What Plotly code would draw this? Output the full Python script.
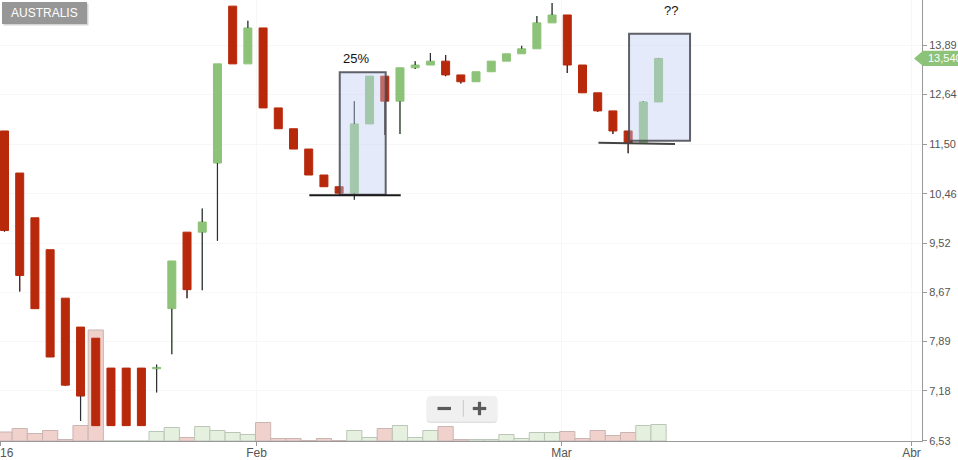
import math
import plotly.graph_objects as go

# ------------------------------------------------------------------
# Data (daily candles, Jan-Mar 2016)
# ------------------------------------------------------------------
month_ticks = [-0.29, 16.57, 36.62, 59.63]
month_labels = ["2016", "Feb", "Mar", "Abr"]

open_ = [11.79, 10.88, 9.99, 9.40, 8.57, 8.11, 7.94, 7.50, 7.50, 7.50,
         7.49, 8.40, 9.72, 9.72, 11.09, 14.96, 13.40, 14.35, 12.32, 11.84,
         11.39, 10.84, 10.60, 10.47, 11.95, 13.09, 12.48, 13.30, 13.37, 13.47,
         13.12, 12.95, 13.20, 13.47, 13.66, 13.79, 14.49, 14.71, 13.37, 12.68,
         12.25, 11.79, 11.52, 12.46]
high = [11.79, 10.88, 9.99, 9.40, 8.57, 8.11, 7.94, 7.50, 7.50, 7.50,
        7.55, 9.20, 9.72, 10.17, 13.40, 14.96, 14.55, 14.35, 12.32, 11.84,
        11.39, 10.84, 10.60, 12.48, 13.09, 13.09, 13.30, 13.47, 13.68, 13.63,
        13.12, 13.20, 13.47, 13.66, 13.87, 14.68, 15.05, 14.71, 13.37, 12.68,
        12.25, 11.79, 12.48, 13.55]
low = [9.73, 8.68, 8.40, 7.66, 7.25, 6.78, 6.72, 6.72, 6.72, 6.72,
       7.16, 7.70, 8.57, 8.70, 9.56, 13.40, 13.40, 12.32, 11.84, 11.39,
       10.84, 10.60, 10.47, 10.34, 11.95, 11.70, 11.72, 13.27, 13.37, 13.09,
       12.91, 12.95, 13.20, 13.47, 13.66, 13.79, 14.49, 13.17, 12.68, 12.23,
       11.72, 11.30, 11.52, 12.46]
close = [9.75, 8.95, 8.40, 7.66, 7.26, 7.11, 6.72, 6.72, 6.72, 6.72,
         7.51, 9.20, 8.71, 9.91, 13.40, 13.40, 14.35, 12.32, 11.84, 11.39,
         10.84, 10.60, 10.47, 11.95, 13.09, 12.48, 13.30, 13.37, 13.47, 13.12,
         12.95, 13.20, 13.47, 13.66, 13.79, 14.49, 14.71, 13.37, 12.68, 12.25,
         11.79, 11.52, 12.46, 13.54]
volume = [18, 25, 15, 21, 3, 31, 222, 0, 0, 0,
          19, 27, 7, 29, 21, 17, 13, 37, 5, 5,
          1, 5, 1, 21, 7, 25, 31, 7, 21, 29,
          3, 3, 3, 13, 5, 17, 17, 19, 5, 21,
          11, 17, 31, 33]          # thousand shares

price_ticks = [6.53, 7.18, 7.89, 8.67, 9.52, 10.46, 11.50, 12.64, 13.89]
price_tick_labels = [f"{v:.2f}".replace(".", ",") for v in price_ticks]

# drawn annotations (boxes, support lines, notes)
box_x0 = [22.04, 41.06]
box_x1 = [25.06, 45.07]
box_lo = [10.44, 11.57]
box_hi = [13.19, 14.19]
support_x0 = [20.04, 39.05]
support_x1 = [26.05, 44.08]
support_y0 = [10.43, 11.53]
support_y1 = [10.43, 11.50]
note_text = ["25%", "??"]
note_x = [23.11, 43.82]
note_y = [13.55, 14.85]

x = list(range(len(close)))

# ------------------------------------------------------------------
UP = "#8dc378"
DOWN = "#b8290c"
WICK = "#2b2f33"
FONT = "Liberation Sans, Arial, sans-serif"
W, H = 958, 460
ML, MR, MT, MB = 0, 36, 0, 19
PW, PH = W - ML - MR, H - MT - MB
PRICE_RANGE = [6.526, 15.136]


def pxx(px):
    return px / PW


def pxy(py):
    return 1 - py / PH


# volume colours: change vs previous close
vol_fill, vol_line = [], []
for i in range(len(close)):
    up = close[i] >= (close[i - 1] if i > 0 else open_[i])
    vol_fill.append("#e5f0df" if up else "#f0d1cc")
    vol_line.append("#bcc6b8" if up else "#c9b5b2")

# wick segments outside the bodies
wx, wy = [], []
for i in range(len(close)):
    top = max(open_[i], close[i])
    bot = min(open_[i], close[i])
    if high[i] > top:
        wx += [x[i], x[i], None]
        wy += [high[i], top, None]
    if low[i] < bot:
        wx += [x[i], x[i], None]
        wy += [bot, low[i], None]

fig = go.Figure()

fig.add_trace(go.Bar(
    x=x, y=volume, width=1.0, yaxis="y",
    marker=dict(color=vol_fill, line=dict(color=vol_line, width=1)),
    hoverinfo="skip", showlegend=False,
))

fig.add_trace(go.Candlestick(
    x=x, open=open_, high=high, low=low, close=close, yaxis="y2",
    increasing=dict(fillcolor=UP, line=dict(color=UP, width=1)),
    decreasing=dict(fillcolor=DOWN, line=dict(color=DOWN, width=1)),
    whiskerwidth=0, showlegend=False,
))

fig.add_trace(go.Scatter(
    x=wx, y=wy, yaxis="y2", mode="lines",
    line=dict(color=WICK, width=1.2), hoverinfo="skip", showlegend=False,
))

shapes = []
# analysis boxes (shape positions on log axes are data values)
for i in range(len(box_x0)):
    shapes.append(dict(
        type="rect", xref="x", yref="y2",
        x0=box_x0[i], x1=box_x1[i], y0=box_lo[i], y1=box_hi[i],
        fillcolor="rgba(190,205,240,0.42)",
        line=dict(color="rgba(70,72,80,0.85)", width=2), layer="above",
    ))
# support lines
for i in range(len(support_x0)):
    shapes.append(dict(
        type="line", xref="x", yref="y2",
        x0=support_x0[i], x1=support_x1[i],
        y0=support_y0[i], y1=support_y1[i],
        line=dict(color="#1a1a1a" if i == 0 else "#444", width=2), layer="above",
    ))

# last price tag
shapes.append(dict(
    type="path", xref="paper", yref="y2",
    xsizemode="pixel", ysizemode="pixel",
    xanchor=1, yanchor=close[-1],
    path="M -8,0 L 1,7.6 L 40,7.6 L 40,-7.6 L 1,-7.6 Z",
    fillcolor=UP, line=dict(width=0), layer="above",
))

# title label box (with shadow)
for dx, dy, col in [(1.5, 1.5, "#d4d4d4"), (0, 0, "#979797")]:
    shapes.append(dict(
        type="rect", xref="paper", yref="paper",
        x0=pxx(2 + dx), x1=pxx(87 + dx), y0=pxy(24 + dy), y1=pxy(2 + dy),
        fillcolor=col, line=dict(width=0), layer="above",
    ))

# zoom control widget
zx, zy = 426.7, 421.7
box_path = ("M 4,0 L 66.6,0 Q 70.6,0 70.6,4 L 70.6,21.7 Q 70.6,25.7 66.6,25.7 "
            "L 4,25.7 Q 0,25.7 0,21.7 L 0,4 Q 0,0 4,0 Z")
for dy, col in [(1.2, "#dedede"), (0, "#f0f0f0")]:
    shapes.append(dict(
        type="path", xref="paper", yref="paper",
        xsizemode="pixel", ysizemode="pixel",
        xanchor=pxx(zx), yanchor=pxy(zy + dy),
        path=box_path, fillcolor=col, line=dict(width=0), layer="above",
    ))
shapes.append(dict(type="line", xref="paper", yref="paper",
                   x0=pxx(463.3), x1=pxx(463.3), y0=pxy(400), y1=pxy(416.7),
                   line=dict(color="#c8c8c8", width=1), layer="above"))
shapes.append(dict(type="line", xref="paper", yref="paper",
                   x0=pxx(437.5), x1=pxx(451), y0=pxy(408.5), y1=pxy(408.5),
                   line=dict(color="#5a5a5a", width=3.2), layer="above"))
shapes.append(dict(type="line", xref="paper", yref="paper",
                   x0=pxx(472.8), x1=pxx(486.2), y0=pxy(408.5), y1=pxy(408.5),
                   line=dict(color="#5a5a5a", width=3.2), layer="above"))
shapes.append(dict(type="line", xref="paper", yref="paper",
                   x0=pxx(479.5), x1=pxx(479.5), y0=pxy(401.8), y1=pxy(415.2),
                   line=dict(color="#5a5a5a", width=3.2), layer="above"))

annotations = []
for i in range(len(note_text)):
    annotations.append(dict(
        text=note_text[i], xref="x", yref="y2",
        x=note_x[i], y=math.log10(note_y[i]),
        showarrow=False, font=dict(family=FONT, size=13, color="#111"),
        xanchor="center", yanchor="middle",
    ))
annotations.append(dict(
    text="AUSTRALIS", xref="paper", yref="paper",
    x=pxx(44.5), y=pxy(13), xanchor="center", yanchor="middle",
    showarrow=False, font=dict(family=FONT, size=12, color="#ffffff"),
))
annotations.append(dict(
    text=f"{close[-1]:.3f}".replace(".", ","), xref="paper", yref="y2",
    x=1, y=math.log10(close[-1]), xanchor="left", yanchor="middle", xshift=4,
    showarrow=False, font=dict(family=FONT, size=11, color="#ffffff"),
))

fig.update_layout(
    width=W, height=H,
    margin=dict(l=ML, r=MR, t=MT, b=MB, pad=0, autoexpand=False),
    paper_bgcolor="#ffffff", plot_bgcolor="#ffffff",
    showlegend=False,
    boxgap=0.474, boxgroupgap=0,
    font=dict(family=FONT, color="#555"),
    xaxis=dict(
        range=[-0.296, 60.32], tickmode="array",
        tickvals=month_ticks, ticktext=month_labels,
        ticks="outside", ticklen=4, tickcolor="#999",
        showline=True, linecolor="#999", linewidth=1,
        showgrid=True, gridcolor="#f7f7f7", zeroline=False,
        rangeslider=dict(visible=False), ticklabeloverflow="allow",
        ticklabelstandoff=-3,
        tickfont=dict(family=FONT, size=12, color="#555"),
        fixedrange=True, automargin=False,
    ),
    yaxis=dict(range=[0, 882], visible=False, fixedrange=True, automargin=False),
    yaxis2=dict(
        type="log", overlaying="y", side="right", anchor="x",
        range=[math.log10(PRICE_RANGE[0]), math.log10(PRICE_RANGE[1])],
        tickmode="array", tickvals=price_ticks, ticktext=price_tick_labels,
        ticks="outside", ticklen=4, tickcolor="#999",
        showline=True, linecolor="#999", linewidth=1,
        showgrid=True, gridcolor="#f7f7f7", zeroline=False,
        tickfont=dict(family=FONT, size=11, color="#555"),
        fixedrange=True, automargin=False,
    ),
    shapes=shapes,
    annotations=annotations,
)

fig.write_html(
    "out.html",
    config={"displayModeBar": False},
    post_script="document.body.style.margin='0';document.body.style.overflow='hidden';",
)
